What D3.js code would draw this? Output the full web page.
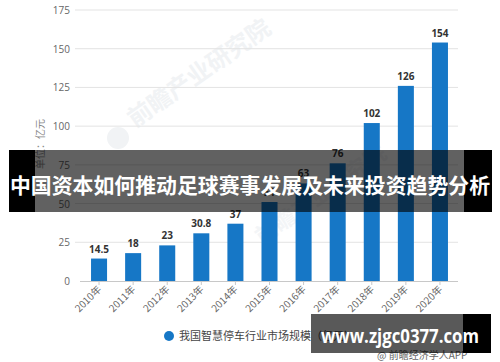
<!DOCTYPE html>
<html><head><meta charset="utf-8">
<script src="https://cdn.jsdelivr.net/npm/d3@7"></script>
<style>body{margin:0;background:#fff;}svg{display:block;}</style>
</head><body>
<svg id="c" width="500" height="362"></svg>
<script>
const years = ["2010年","2011年","2012年","2013年","2014年","2015年","2016年","2017年","2018年","2019年","2020年"];
const values = [14.5, 18, 23, 30.8, 37, 51, 63, 76, 102, 126, 154];
const valueLabels = ["14.5","18","23","30.8","37","51","63","76","102","126","154"];
const yTicks = [0,25,50,75,100,125,150,175];
const seriesName = "我国智慧停车行业市场规模（亿元）";
const yTitle = "单位：亿元";
const title = "中国资本如何推动足球赛事发展及未来投资趋势分析";
const site = "www.zjgc0377.com";
const credit = "@ 前瞻经济学人APP";
const watermark = "前瞻产业研究院";

const svg = d3.select("#c");
const fontCJK = "'Noto Sans CJK SC','Noto Sans',sans-serif";
const fontNum = "'Open Sans','Noto Sans',sans-serif";

const x = d3.scaleBand().domain(years).range([82,457]).paddingInner(0.53).paddingOuter(0.265);
const y = d3.scaleLinear().domain([0,175]).range([281,10]);

// faint watermarks
svg.append("text").attr("transform","translate(135,128) rotate(-35)")
  .attr("font-family",fontCJK).attr("font-size",24).attr("font-weight","bold")
  .attr("fill","#f1f3f5").text(watermark);
svg.append("circle").attr("cx",118).attr("cy",138).attr("r",11).attr("fill","#f1f3f5");
svg.append("text").attr("transform","translate(262,245) rotate(-35)")
  .attr("font-family",fontCJK).attr("font-size",22).attr("font-weight","bold")
  .attr("fill","#f3f5f7").text(watermark);

// gridlines
svg.append("g").selectAll("line").data(yTicks.filter(d=>d>0)).join("line")
  .attr("x1",75).attr("x2",458).attr("y1",d=>y(d)).attr("y2",d=>y(d))
  .attr("stroke","#e3e3e3").attr("stroke-width",1);
// y tick labels
svg.append("g").selectAll("text").data(yTicks).join("text")
  .attr("x",70).attr("y",d=>y(d)+4).attr("text-anchor","end")
  .attr("font-family",fontNum).attr("font-size",10).attr("fill","#666").text(d=>d);
// y title
svg.append("text").attr("transform","translate(44,144) rotate(-90)").attr("text-anchor","middle")
  .attr("font-family",fontCJK).attr("font-size",10).attr("fill","#888").text(yTitle);

// bars
svg.append("g").selectAll("rect").data(values).join("rect")
  .attr("x",(d,i)=>x(years[i])).attr("width",x.bandwidth())
  .attr("y",d=>y(d)).attr("height",d=>y(0)-y(d)).attr("fill","#1677c6");
// value labels
svg.append("g").selectAll("text").data(values).join("text")
  .attr("x",(d,i)=>x(years[i])+x.bandwidth()/2).attr("y",d=>y(d)-6).attr("text-anchor","middle")
  .attr("font-family",fontNum).attr("font-size",10).attr("font-weight","bold").attr("fill","#333")
  .text((d,i)=>valueLabels[i]);

// x axis
svg.append("line").attr("x1",80).attr("x2",458).attr("y1",y(0)+0.5).attr("y2",y(0)+0.5).attr("stroke","#c8c8c8");
svg.append("g").selectAll("line").data(years).join("line")
  .attr("x1",d=>x(d)+x.bandwidth()/2).attr("x2",d=>x(d)+x.bandwidth()/2)
  .attr("y1",y(0)).attr("y2",y(0)+4).attr("stroke","#c8c8c8");
svg.append("g").selectAll("text").data(years).join("text")
  .attr("transform",d=>`translate(${x(d)+x.bandwidth()/2+3},${y(0)+9}) rotate(-45)`)
  .attr("text-anchor","end").attr("font-family",fontCJK).attr("font-size",10).attr("fill","#666").text(d=>d);

// legend
svg.append("circle").attr("cx",169).attr("cy",336).attr("r",5).attr("fill","#1677c6");
svg.append("text").attr("x",179).attr("y",340).attr("font-family",fontCJK).attr("font-size",11)
  .attr("fill","#444").text(seriesName);
svg.append("text").attr("x",377).attr("y",359).attr("font-family",fontCJK).attr("font-size",10)
  .attr("fill","#666").text(credit);

// title banner
svg.append("rect").attr("x",9).attr("y",150).attr("width",26).attr("height",62).attr("fill","#000");
svg.append("rect").attr("x",464).attr("y",150).attr("width",28).attr("height",62).attr("fill","#000");
svg.append("rect").attr("x",35).attr("y",150).attr("width",429).attr("height",62).attr("fill","rgba(0,0,0,0.62)");
svg.append("text").attr("x",250).attr("y",193).attr("text-anchor","middle")
  .attr("font-family",fontCJK).attr("font-size",21).attr("font-weight","bold").attr("fill","#fff")
  .attr("textLength",480).attr("lengthAdjust","spacingAndGlyphs").text(title);

// site box
svg.append("rect").attr("x",311).attr("y",314).attr("width",152).attr("height",39).attr("fill","rgba(0,0,0,0.65)");
svg.append("rect").attr("x",463).attr("y",314).attr("width",28).attr("height",39).attr("fill","#000");
svg.append("text").attr("x",321).attr("y",343)
  .attr("font-family",fontNum).attr("font-size",19).attr("font-weight","bold").attr("fill","#fff")
  .attr("textLength",158).attr("lengthAdjust","spacingAndGlyphs").text(site);
</script>
</body></html>
